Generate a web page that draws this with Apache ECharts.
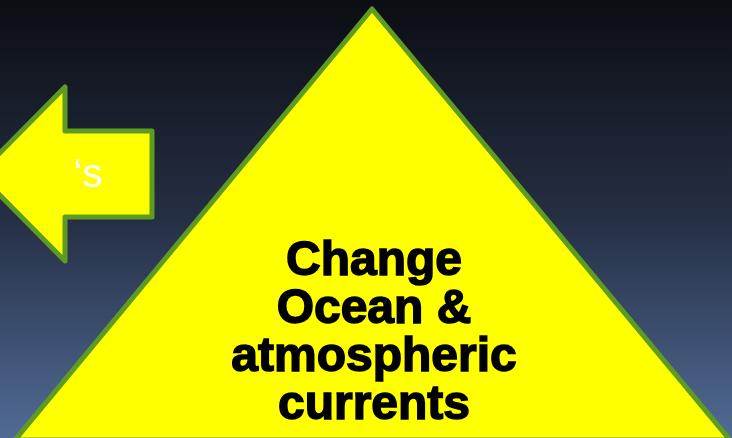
<!DOCTYPE html>
<html><head><meta charset="utf-8">
<script src="https://cdn.jsdelivr.net/npm/echarts@6/dist/echarts.min.js"></script>
<style>html,body{margin:0;padding:0;}#c{width:732px;height:438px;}</style>
</head><body><div id="c"></div>
<script>
// Shape outlines (in slide units, origin top-left)
var trianglePoints = [[372, 9], [15, 440], [730, 440]];
var arrowPoints = [[-21, 174], [65, 87], [65, 131], [152, 131], [152, 217], [65, 217], [65, 261]];
// Labels: [x, y, text]
var arrowLabel = [88, 176, '‘s'];
var triangleLabel = [374, 334, 'Change\nOcean &\natmospheric\ncurrents'];

var shapes = [
  { name: 'triangle', points: trianglePoints },
  { name: 'arrow', points: arrowPoints }
];

var chart = echarts.init(document.getElementById('c'));
chart.setOption({
  backgroundColor: {
    type: 'linear', x: 0, y: 0, x2: 0, y2: 1,
    colorStops: [{ offset: 0, color: '#0b0d13' }, { offset: 0.5, color: '#252f44' }, { offset: 1, color: '#516b96' }]
  },
  animation: false,
  grid: { left: 0, right: 0, top: 0, bottom: 0 },
  xAxis: { type: 'value', min: 0, max: 732, show: false },
  yAxis: { type: 'value', min: 0, max: 438, inverse: true, show: false },
  series: [{
    type: 'custom',
    coordinateSystem: 'cartesian2d',
    clip: false,
    data: shapes.map(function (s, i) { return [i]; }),
    renderItem: function (params, api) {
      var s = shapes[params.dataIndex];
      var pts = s.points.map(function (p) { return api.coord(p); });
      var children = [{
        type: 'polygon',
        shape: { points: pts },
        style: { fill: '#ffff00', stroke: '#5f9b22', lineWidth: 5, lineJoin: 'round' }
      }];
      var lab = s.name === 'arrow' ? arrowLabel : triangleLabel;
      var c = api.coord([lab[0], lab[1]]);
      children.push({
        type: 'text',
        x: c[0], y: c[1],
        style: s.name === 'arrow' ? {
          text: lab[2], fill: '#ffffff', font: '40px "Liberation Sans", Arial, sans-serif',
          align: 'center', verticalAlign: 'middle'
        } : {
          text: lab[2], fill: '#000000', font: 'bold 48px "Liberation Sans", Arial, sans-serif',
          stroke: '#000000', lineWidth: 1.5,
          lineHeight: 48, align: 'center', verticalAlign: 'middle'
        }
      });
      return { type: 'group', children: children };
    }
  }]
});
</script></body></html>
